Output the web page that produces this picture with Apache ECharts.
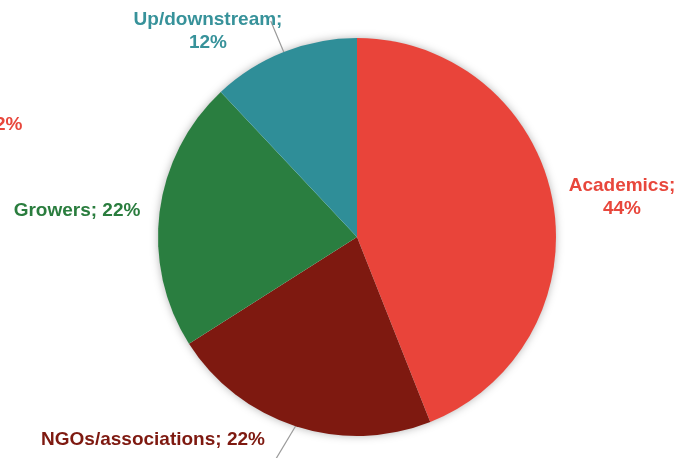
<!DOCTYPE html>
<html>
<head>
<meta charset="utf-8">
<script src="https://cdn.jsdelivr.net/npm/echarts@6/dist/echarts.min.js"></script>
<style>
  html, body { margin: 0; padding: 0; background: #ffffff; }
  #chart { width: 687px; height: 458px; }
</style>
</head>
<body>
<div id="chart"></div>
<script>
// Stakeholder groups and their shares (%)
const categories = ['Academics', 'NGOs/associations', 'Growers', 'Up/downstream'];
const shares = [44, 22, 22, 12];
const sliceColors = ['#E9443A', '#7E1910', '#2A7E40', '#2F8E98'];
const labelColors = ['#E8473C', '#7E1910', '#2A7D3E', '#37929A'];

const FONT = '"Liberation Sans", Arial, sans-serif';
const CX = 357, CY = 237, R = 199;

// label placement per slice: text anchor point and leader line offset (if any)
const labelPlace = [
  { x: 622, y: 197, line: null },
  { x: 153, y: 440, line: [-21, 35] },
  { x: 77,  y: 211, line: null },
  { x: 208, y: 31,  line: [-13, -31] }
];

const chart = echarts.init(document.getElementById('chart'));

chart.setOption({
  animation: false,
  backgroundColor: '#ffffff',
  graphic: [{
    type: 'text',
    left: -5,
    top: 115,
    style: {
      text: '2%',
      fill: '#E8473C',
      font: 'bold 19px ' + FONT
    }
  }],
  series: [
    {
      // soft halo beneath the pie
      type: 'pie',
      silent: true,
      center: [CX, CY],
      radius: R - 1,
      z: 1,
      label: { show: false },
      labelLine: { show: false },
      itemStyle: {
        color: '#ffffff',
        shadowBlur: 10,
        shadowColor: 'rgba(0,0,0,0.35)'
      },
      data: [1]
    },
    {
      type: 'pie',
      z: 2,
      center: [CX, CY],
      radius: R,
      startAngle: 90,
      clockwise: true,
      label: {
        show: true,
        fontFamily: FONT,
        fontWeight: 'bold',
        fontSize: 19,
        lineHeight: 23,
        overflow: 'none',
        align: 'center',
        verticalAlign: 'middle'
      },
      labelLine: {
        show: true,
        length: 20,
        length2: 0,
        lineStyle: { color: '#9a9a9a', width: 1.2 }
      },
      labelLayout: function (p) {
        const place = labelPlace[p.dataIndex];
        const out = { x: place.x, y: place.y, align: 'center', verticalAlign: 'middle' };
        if (place.line && p.labelLinePoints) {
          const s = p.labelLinePoints[0];
          out.labelLinePoints = [[s[0], s[1]], [s[0] + place.line[0], s[1] + place.line[1]]];
        }
        return out;
      },
      data: categories.map((name, i) => ({
        name: name,
        value: shares[i],
        itemStyle: { color: sliceColors[i], borderWidth: 0 },
        label: {
          color: labelColors[i],
          overflow: 'none',
          width: 300,
          formatter: (i === 0 || i === 3) ? '{b};\n{c}%' : '{b}; {c}%'
        },
        labelLine: { show: labelPlace[i].line !== null }
      }))
    }
  ]
});
</script>
</body>
</html>
